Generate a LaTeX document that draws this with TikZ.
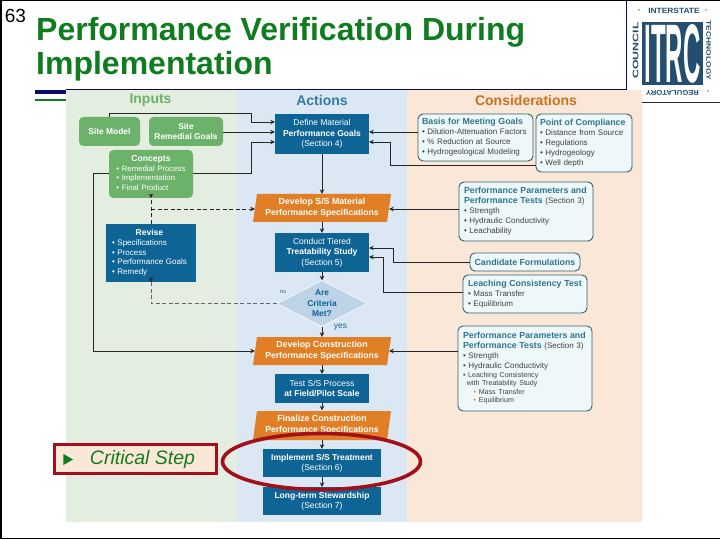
\documentclass[tikz,border=0pt]{standalone}
\usepackage{fontspec}
\usepackage{graphicx}
\setmainfont{Liberation Sans}
\usetikzlibrary{arrows.meta,shapes.geometric}
\definecolor{titlegreen}{HTML}{107C20}
\definecolor{navy}{HTML}{0B0B6B}
\definecolor{pgreen}{HTML}{E3EDE0}
\definecolor{pblue}{HTML}{DBE7F2}
\definecolor{ppeach}{HTML}{FBE7D7}
\definecolor{bgreen}{HTML}{6DB26A}
\definecolor{bblue}{HTML}{0F6496}
\definecolor{borange}{HTML}{E07F26}
\definecolor{dfill}{HTML}{BDD3E6}
\definecolor{cfill}{HTML}{EEF8F9}
\definecolor{cedge}{HTML}{2F5F6F}
\definecolor{chead}{HTML}{2F7590}
\definecolor{critred}{HTML}{A30F1A}
\definecolor{logoblue}{HTML}{234E70}
\newcommand{\fs}[2]{\fontsize{#1}{#2}\selectfont}
\tikzset{
  x=1pt,y=-1pt,
  >={Stealth[length=4.5pt,width=4.5pt]},
  conn/.style={draw=black!85,line width=0.7pt,->},
  tipconn/.style={draw=black!85,line width=0.7pt,-{Stealth[length=4.5pt,width=4.5pt]}},
  dashconn/.style={draw=black!85,line width=0.7pt,dash pattern=on 4pt off 2.5pt},
  gbox/.style={fill=bgreen,rounded corners=4.5pt,text=white,inner sep=0pt,align=center,font=\fs{8.4}{10.6}\bfseries},
  bbox/.style={fill=bblue,inner sep=0pt,text=white,align=center,font=\fs{8.5}{10.4}},
  obox/.style={inner sep=0pt,text=white,align=center,font=\fs{8.8}{10.6}\bfseries},
  cbox/.style={draw=cedge,line width=0.9pt,fill=cfill,rounded corners=5pt,inner sep=0pt,text=black!75,align=left,font=\fs{8}{10}},
  head/.style={font=\fs{14}{15}\bfseries},
  logotxt/.style={text=logoblue,inner sep=0pt,font=\fs{7.6}{8}\bfseries},
  starmark/.style={inner sep=0pt,text=logoblue!60!green,font=\fs{6}{7}},
}
\newcommand{\hd}[1]{{\color{chead}\fs{8.8}{10}\bfseries #1}}
\begin{document}
\begin{tikzpicture}
\useasboundingbox (0,0) rectangle (720,540);
\fill[white] (0,0) rectangle (720,540);
% slide frame
\fill[black] (0,0) rectangle (720,1.2);
\fill[black] (0,0) rectangle (1.5,538.5);
\fill[black] (0,537.5) rectangle (720,538.8);
\node[inner sep=0pt,font=\fs{19}{20}] (num) at (15.5,15.5) {63};
\node[inner sep=0pt,anchor=north west,text=titlegreen,align=left,font=\fs{32}{33.5}\bfseries] (title) at (36,17.5) {Performance Verification During\\Implementation};
% rules
\fill[navy] (35,90) rectangle (66,94);
\fill[titlegreen] (35,99) rectangle (66,101);
\draw[navy,line width=0.9pt] (66,89.3) -- (626.5,89.3) -- (626.5,0);
% panels
\fill[pgreen] (66,90) rectangle (237,522);
\fill[pblue] (237,90) rectangle (407,522);
\fill[ppeach] (407,90) rectangle (642,522);
\draw[black!85,line width=0.7pt] (642,102) -- (720,102);
\node[head,text=bgreen] (hin) at (150.5,100.5) {Inputs};
\node[head,text=bblue!85] (hac) at (322,100.5) {Actions};
\node[head,text=borange!90!black] (hco) at (526,100.5) {Considerations};
% inputs
\node[gbox,minimum width=61pt,minimum height=29pt] (sm) at (109.5,131.5) {Site Model};
\node[gbox,minimum width=74pt,minimum height=29pt] (sr) at (186,131.5) {Site\\Remedial Goals};
\node[gbox,minimum width=84pt,minimum height=48pt,text width=73pt,font=\fs{7.8}{10}] (con) at (151,174) {\begin{tabular}{@{}l@{}}\multicolumn{1}{@{}c@{}}{\fs{8.6}{10}\bfseries Concepts}\\[-0.2pt]• Remedial Process\\[-0.2pt]• Implementation\\[-0.2pt]• Final Product\end{tabular}};
\node[fill=bblue,inner sep=0pt,text=white,minimum width=90pt,minimum height=58pt,text width=78pt,align=left,font=\fs{8}{10}] (rev) at (151,253) {\begin{tabular}{@{}l@{}}\multicolumn{1}{@{}c@{}}{\fs{8.6}{10}\bfseries Revise}\\[-0.2pt]• Specifications\\[-0.2pt]• Process\\[-0.2pt]• Performance Goals\\[-0.2pt]• Remedy\end{tabular}};
% actions
\node[bbox,minimum width=94pt,minimum height=40pt] (def) at (322,134) {Define Material\\{\bfseries Performance Goals}\\(Section 4)};
\fill[borange] (257,194) -- (391,194) -- (387,222) -- (253,222) -- cycle;
\node[obox,minimum width=134pt,minimum height=28pt] (dev) at (322,208) {Develop S/S Material\\{\fs{8.6}{10.6}Performance Specifications}};
\node[bbox,minimum width=94pt,minimum height=39pt] (tre) at (322,252.5) {Conduct Tiered\\{\bfseries Treatability Study}\\(Section 5)};
\node[diamond,aspect=1.96,fill=dfill,draw=white,line width=0.5pt,inner sep=0pt,minimum width=90pt,minimum height=46pt,text=bblue,align=center,font=\fs{8.4}{10.4}\bfseries] (dia) at (322,303.5) {Are\\Criteria\\Met?};
\node[inner sep=0pt,text=bblue,font=\fs{5.5}{6}] (no) at (283,292.5) {no};
\node[inner sep=0pt,text=bblue,font=\fs{8.5}{9}] (yes) at (340.5,327) {yes};
\fill[borange] (257,337) -- (391,337) -- (387,365) -- (253,365) -- cycle;
\node[obox,minimum width=134pt,minimum height=28pt] (dcs) at (322,351) {Develop Construction\\{\fs{8.6}{10.6}Performance Specifications}};
\node[bbox,minimum width=94pt,minimum height=29pt] (tst) at (322,388.5) {Test S/S Process\\{\bfseries at Field/Pilot Scale}};
\fill[borange] (257,411) -- (391,411) -- (387,440) -- (253,440) -- cycle;
\node[obox,minimum width=134pt,minimum height=29pt] (fin) at (322,425) {Finalize Construction\\{\fs{8.6}{10.6}Performance Specifications}};
\node[bbox,minimum width=118pt,minimum height=28pt] (imp) at (322,463) {{\bfseries Implement S/S Treatment}\\(Section 6)};
\node[bbox,minimum width=118pt,minimum height=28pt] (lng) at (322,501) {{\bfseries Long-term Stewardship}\\(Section 7)};
% considerations
\node[cbox,minimum width=115pt,minimum height=47pt,text width=107pt] (bas) at (475.5,137.5) {\hd{Basis for Meeting Goals}\\• Dilution-Attenuation Factors\\• \% Reduction at Source\\• Hydrogeological Modeling};
\node[cbox,minimum width=96pt,minimum height=58pt,text width=88pt] (poc) at (584,143) {\hd{Point of Compliance}\\• Distance from Source\\• Regulations\\• Hydrogeology\\• Well depth};
\node[cbox,minimum width=134pt,minimum height=59pt,text width=124pt] (pp1) at (526,211.5) {\hd{Performance Parameters and}\\\hd{Performance Tests} (Section 3)\\• Strength\\• Hydraulic Conductivity\\• Leachability};
\node[cbox,minimum width=110pt,minimum height=18pt,align=center] (can) at (525,262) {\hd{Candidate Formulations}};
\node[cbox,minimum width=124pt,minimum height=38pt,text width=114pt] (lea) at (525,294) {\hd{Leaching Consistency Test}\\• Mass Transfer\\• Equilibrium};
\node[cbox,minimum width=134pt,minimum height=85pt,text width=124pt] (pp2) at (525,368.5) {\begin{tabular}{@{}l@{}}\hd{Performance Parameters and}\\\hd{Performance Tests} (Section 3)\\• Strength\\• Hydraulic Conductivity\\[-1.2pt]{\fs{7.1}{8.4}• Leaching Consistency}\\[-1.6pt]{\fs{7.1}{8.4}\ \,with Treatability Study}\\[-1.6pt]{\fs{7.1}{8.4}\ \ \ \ {\color{borange}•} Mass Transfer}\\[-1.6pt]{\fs{7.1}{8.4}\ \ \ \ {\color{borange}•} Equilibrium}\end{tabular}};
% connectors
\draw[conn] (sm.north) |- (251,113) -- (251,122) -- (def.west |- 0,122);
\draw[conn] (sr.east |- 0,132) -- (def.west |- 0,132);
\draw[conn] (con.east |- 0,173) -- (251,173) -- (251,142) -- (def.west |- 0,142);
\draw[conn] (con.west |- 0,173) -- (93,173) -- (93,351) -- (dcs.west);
\draw[dashconn] (rev.north) -- (con.south);
\draw[tipconn] ([yshift=4pt]con.south) -- (con.south);
\draw[dashconn] (con.south |- 0,209) -- (dev.west |- 0,209);
\draw[tipconn] ([xshift=-5pt]dev.west |- 0,209) -- (dev.west |- 0,209);
\draw[dashconn,draw=black!60] (dia.west) -- (151,303.5) -- (rev.south);
\draw[tipconn] ([yshift=5pt]rev.south) -- (rev.south);
\draw[conn] (def.south) -- (dev.north);
\draw[conn] (dev.south) -- (tre.north);
\draw[conn] (tre.south) -- (dia.north);
\draw[conn] (dia.south) -- (dcs.north);
\draw[conn] (dcs.south) -- (tst.north);
\draw[conn] (tst.south) -- (fin.north);
\draw[conn] (fin.south) -- (imp.north);
\draw[conn] (imp.south) -- (lng.north);
\draw[conn] (bas.west |- 0,132) -- (def.east |- 0,132);
\draw[conn] (poc.west |- 0,165) -- (390,165) -- (390,142) -- (def.east |- 0,142);
\draw[conn] (pp1.west |- 0,209) -- (dev.east |- 0,209);
\draw[conn] (can.west) -- (393,262) -- (393,248) -- (tre.east |- 0,248);
\draw[conn] (lea.west |- 0,292) -- (383,292) -- (383,257) -- (tre.east |- 0,257);
\draw[conn] (pp2.west |- 0,351) -- (dcs.east);
% highlight
\node[ellipse,draw=critred,line width=3.6pt,inner sep=0pt,minimum width=198pt,minimum height=56pt] (hl) at (321.5,461.5) {};
% critical step
\node[draw=critred,line width=2.8pt,fill=ppeach,minimum width=162pt,minimum height=29pt,inner sep=0pt] (crit) at (135.5,459) {};
\node[regular polygon,regular polygon sides=3,shape border rotate=-90,fill=titlegreen,inner sep=0pt,minimum size=13pt] (tri) at (66.5,459.5) {};
\node[inner sep=0pt,text=titlegreen,font=\fs{19.5}{20}\itshape] (crittxt) at (142.5,459) {Critical Step};
% logo
\node[fill=logoblue,inner sep=0pt,minimum width=61pt,minimum height=63pt] (lg) at (672.5,54) {};
\node[inner sep=0pt,text=white,font=\fs{40}{40}\bfseries] (itrc) at (672.5,54) {\resizebox{56pt}{58pt}{ITRC}};
\node[logotxt] (l1) at (674,10.5) {\scalebox{1.1}[1]{INTERSTATE}};
\node[logotxt,rotate=90,font=\fs{8}{8}\bfseries] (l2) at (635.5,50.5) {\scalebox{1.55}[1]{COUNCIL}};
\node[logotxt,rotate=-90,font=\fs{6.5}{7}\bfseries] (l3) at (708.5,50.5) {\scalebox{1.3}[1]{TECHNOLOGY}};
\node[logotxt,rotate=180,font=\fs{7}{7}\bfseries] (l4) at (672.5,92.5) {\scalebox{1.1}[1]{REGULATORY}};
\node[starmark] (s1) at (639,11) {*};
\node[starmark] (s2) at (706,11) {*};
\node[starmark] (s3) at (708,92.5) {*};
\end{tikzpicture}
\end{document}
